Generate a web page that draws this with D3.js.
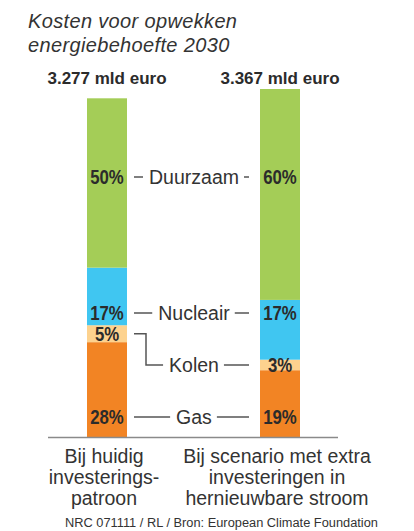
<!DOCTYPE html>
<html>
<head>
<meta charset="utf-8">
<script src="https://cdn.jsdelivr.net/npm/d3@7"></script>
<style>
	body { margin: 0; background: #fff; }
	svg { display: block; }
</style>
</head>
<body>
<svg id="svg" width="414" height="531"></svg>
<script>
const svg = d3.select("#svg");

// data
const scenarios = ["huidig", "extra"];
const totals = [3277, 3367];
const totalLabels = ["3.277 mld euro", "3.367 mld euro"];
const sources = ["Gas", "Kolen", "Nucleair", "Duurzaam"];
const huidig = [28, 5, 17, 50];
const extra = [19, 3, 17, 60];
const colors = ["#f28424", "#fdd28e", "#40c6f1", "#a4cd57"];
const scenarioLabels = [
	["Bij huidig", "investerings-", "patroon"],
	["Bij scenario met extra", "investeringen in", "hernieuwbare stroom"],
];

const BAR_W = 40;
const BASE = 437;
const TEXT = "#2b2b2b";
const LINE = "#555";
const FONT = "Liberation Sans, Arial, sans-serif";

const x = d3.scalePoint().domain(scenarios).range([107, 280]);
const y = d3.scaleLinear().domain([0, d3.max(totals)]).range([BASE, 89]);

// stack the percentages of each bar into values in mld euro
const series = [huidig, extra];
const bars = scenarios.map((s, i) => {
	const sum = d3.sum(series[i]);
	let acc = 0;
	return series[i].map((p, j) => {
		const v0 = acc;
		acc += (p / sum) * totals[i];
		return { scenario: s, source: sources[j], pct: p, v0: v0, v1: acc, color: colors[j] };
	});
});

// title
svg.append("text")
	.attr("x", 28)
	.attr("y", 28)
	.attr("font-family", FONT)
	.attr("font-style", "italic")
	.attr("font-size", 20)
	.attr("letter-spacing", 0.35)
	.attr("fill", "#333")
	.selectAll("tspan")
	.data(["Kosten voor opwekken", "energiebehoefte 2030"])
	.join("tspan")
	.attr("x", 28)
	.attr("dy", (d, i) => (i ? 24 : 0))
	.text((d) => d);

// totals above the bars
svg.selectAll(".total")
	.data(scenarios)
	.join("text")
	.attr("class", "total")
	.attr("x", (d) => x(d))
	.attr("y", 84)
	.attr("text-anchor", "middle")
	.attr("font-family", FONT)
	.attr("font-weight", "bold")
	.attr("font-size", 17)
	.attr("fill", TEXT)
	.text((d, i) => totalLabels[i]);

// segments
svg.selectAll(".seg")
	.data(bars.flat())
	.join("rect")
	.attr("class", "seg")
	.attr("x", (d) => x(d.scenario) - BAR_W / 2)
	.attr("y", (d) => y(d.v1))
	.attr("width", BAR_W)
	.attr("height", (d) => y(d.v0) - y(d.v1))
	.attr("fill", (d) => d.color);

// baseline
svg.append("line")
	.attr("x1", 48)
	.attr("x2", 338)
	.attr("y1", BASE + 0.5)
	.attr("y2", BASE + 0.5)
	.attr("stroke", "#8a8a8a")
	.attr("stroke-width", 1.5);

// label rows for the legend in the middle
const rowY = { Gas: 417, Nucleair: 313, Duurzaam: 177 };
const kolenY = bars.map((b) => (y(b[1].v0) + y(b[1].v1)) / 2);
const labelY = (d, i) => (d.source == "Kolen" ? kolenY[i] : rowY[d.source]);

// percentages in the bars (squeezed, the original uses a condensed face)
bars.forEach((b, i) => {
	svg.selectAll(`.pct-${i}`)
		.data(b)
		.join("text")
		.attr("class", `pct-${i}`)
		.attr("transform", (d) => `translate(${x(d.scenario)},${labelY(d, i)}) scale(0.84,1)`)
		.attr("dy", "0.36em")
		.attr("text-anchor", "middle")
		.attr("font-family", FONT)
		.attr("font-weight", "bold")
		.attr("font-size", 20)
		.attr("fill", TEXT)
		.text((d) => d.pct + "%");
});

// legend texts with connectors
const left = x(scenarios[0]) + BAR_W / 2 + 7;
const right = x(scenarios[1]) - BAR_W / 2 - 11;
const mid = 194;

sources.forEach((s) => {
	const ly = s == "Kolen" ? kolenY[1] : rowY[s];
	const t = svg.append("text")
		.attr("x", mid)
		.attr("y", ly)
		.attr("dy", "0.35em")
		.attr("text-anchor", "middle")
		.attr("font-family", FONT)
		.attr("font-size", 19.5)
		.attr("fill", "#333")
		.text(s);
	const w = t.node().getComputedTextLength();
	const path = d3.path();
	if (s == "Kolen") {
		const bx = left + 12;
		path.moveTo(left, kolenY[0]);
		path.lineTo(bx, kolenY[0]);
		path.lineTo(bx, ly);
		path.lineTo(mid - w / 2 - 6, ly);
	} else {
		path.moveTo(left, ly);
		path.lineTo(mid - w / 2 - 6, ly);
	}
	path.moveTo(mid + w / 2 + 5, ly);
	path.lineTo(right, ly);
	svg.append("path")
		.attr("d", path.toString())
		.attr("fill", "none")
		.attr("stroke", LINE)
		.attr("stroke-width", 1.5);
});

// category labels below
scenarios.forEach((s, i) => {
	svg.append("text")
		.attr("text-anchor", "middle")
		.attr("font-family", FONT)
		.attr("font-size", 19.5)
		.attr("fill", "#333")
		.selectAll("tspan")
		.data(scenarioLabels[i])
		.join("tspan")
		.attr("x", x(s) - 3)
		.attr("y", (d, j) => 463 + j * 21)
		.text((d) => d);
});

// source
svg.append("text")
	.attr("transform", "translate(65,527) scale(0.95,1)")
	.attr("font-family", FONT)
	.attr("font-size", 13.5)
	.attr("fill", "#333")
	.text("NRC 071111 / RL / Bron: European Climate Foundation");
</script>
</body>
</html>
